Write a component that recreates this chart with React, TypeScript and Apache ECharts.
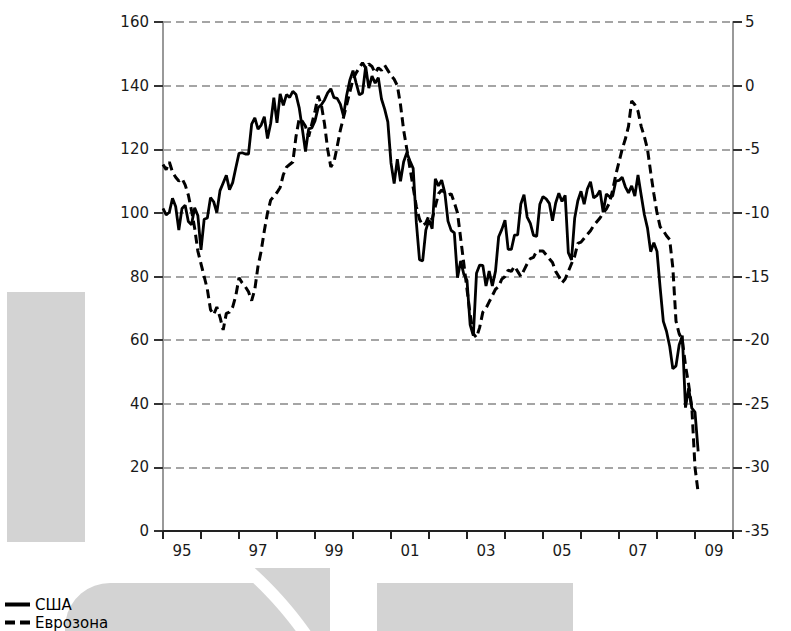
import React, { useEffect, useRef } from "react";
import * as echarts from "echarts";

const yearLabels = ["95", "96", "97", "98", "99", "00", "01", "02", "03", "04", "05", "06", "07", "08", "09"];

// Monthly, Jan 1995 .. Feb 2009 (left axis)
const usa = [
  101.4, 99.4, 100.2, 104.6, 102.0, 94.6, 101.4, 102.4, 97.3, 96.3, 101.6, 99.2,
  88.4, 98.0, 98.4, 104.8, 103.5, 100.1, 107.0, 109.4, 111.8, 107.3, 109.5, 114.2,
  118.7, 118.9, 118.5, 118.5, 127.9, 129.9, 126.3, 127.6, 130.2, 123.4, 128.1, 136.2,
  128.3, 137.4, 133.8, 137.2, 136.3, 138.2, 137.2, 133.1, 126.4, 119.3, 126.4, 126.7,
  128.9, 133.1, 134.0, 135.5, 137.7, 139.0, 136.2, 136.0, 134.2, 130.5, 137.0, 141.7,
  144.7, 140.8, 137.1, 137.7, 146.0, 139.2, 143.0, 140.8, 142.5, 135.8, 132.6, 128.6,
  115.7, 109.2, 116.9, 109.9, 116.1, 118.9, 116.3, 114.0, 97.0, 85.3, 84.9, 94.6,
  97.8, 95.0, 110.7, 108.5, 110.3, 106.3, 97.4, 94.5, 93.7, 79.6, 84.9, 80.7,
  78.8, 64.8, 61.4, 81.0, 83.6, 83.5, 77.0, 81.7, 77.0, 81.7, 92.5, 94.8,
  97.7, 88.5, 88.5, 93.0, 93.1, 102.8, 105.7, 98.7, 96.7, 92.9, 92.6, 102.7,
  105.1, 104.4, 103.0, 97.5, 103.1, 106.2, 103.6, 105.5, 87.5, 85.2, 98.3, 103.8,
  106.8, 102.7, 107.5, 109.8, 104.7, 105.4, 107.0, 100.2, 105.9, 105.1, 105.3, 110.0,
  110.2, 111.2, 108.2, 106.3, 108.5, 105.3, 111.9, 105.6, 99.5, 95.2, 87.8, 90.6,
  87.9, 76.4, 65.9, 62.8, 58.1, 51.0, 51.9, 58.5, 61.4, 38.8, 44.9, 38.6,
  37.4, 25.0,
];

// Monthly, Jan 1995 .. Feb 2009 (right axis)
const eurozone = [
  -6.2, -6.6, -6.0, -6.8, -7.2, -7.5, -7.3, -7.8, -8.6, -9.8, -11.2, -13.0,
  -14.0, -15.0, -16.0, -17.6, -18.0, -17.4, -18.2, -19.2, -17.9, -17.8, -17.4, -16.5,
  -15.1, -15.5, -15.8, -16.2, -16.9, -16.0, -14.2, -13.0, -11.4, -10.0, -9.0, -8.7,
  -8.4, -8.0, -7.0, -6.4, -6.2, -6.0, -4.0, -2.6, -2.8, -3.2, -4.0, -3.0,
  -2.0, -0.8, -1.5, -3.0, -5.0, -6.4, -6.0, -4.8, -3.5, -2.5, -1.5, -0.5,
  0.5, 1.0, 1.4, 1.8, 1.4, 1.7, 1.5, 1.0, 1.4, 1.2, 1.6, 1.2,
  0.8, 0.5, 0.0, -1.5, -3.5, -5.0, -6.5, -8.0, -9.5, -10.5, -11.0, -10.8,
  -10.2, -10.5, -9.5, -8.5, -8.2, -8.4, -8.6, -8.5, -9.2, -10.0, -12.0, -14.0,
  -16.0, -18.0, -19.5, -19.8, -19.0, -17.8, -17.5, -17.0, -16.5, -16.0, -15.8, -15.2,
  -15.0, -14.5, -14.6, -14.2, -14.6, -15.0, -14.5, -14.0, -13.6, -13.5, -13.0, -13.0,
  -13.0, -13.3, -13.6, -13.9, -14.6, -15.0, -15.5, -15.2, -14.6, -14.0, -13.4, -12.4,
  -12.3, -12.0, -11.7, -11.4, -11.0, -10.7, -10.4, -10.0, -9.7, -9.2, -8.2, -7.0,
  -6.0, -5.0, -4.2, -3.2, -1.2, -1.5, -2.0, -3.2, -4.0, -5.0, -6.8, -8.5,
  -10.0, -11.1, -11.4, -11.8, -12.1, -14.3, -18.5, -19.5, -20.0, -22.0, -23.5, -25.3,
  -30.0, -32.0,
];

const seriesNames = ["США", "Еврозона"];

const FONT = "DejaVu Sans";
const GRAY = "#d3d3d3";

function decoShapes() {
  const shapes: any[] = [];
  shapes.push({ type: "rect", shape: { x: 7, y: 292, width: 78, height: 250 }, style: { fill: GRAY }, z: 0 });
  const cx = 0, cy = 850;
  const ptsA: number[][] = [];
  ptsA.push([65, 640]);
  for (let a = 180; a <= 270; a += 10) {
    const r = a * Math.PI / 180;
    ptsA.push([110 + 45 * Math.cos(r), 628 + 45 * Math.sin(r)]);
  }
  const rA = 368;
  for (let y = 583; y <= 640; y += 4) {
    ptsA.push([cx + Math.sqrt(rA * rA - (cy - y) * (cy - y)), y]);
  }
  shapes.push({ type: "polygon", shape: { points: ptsA }, style: { fill: GRAY }, z: 0 });
  const rB = 380;
  const ptsB: number[][] = [];
  ptsB.push([330, 568]);
  ptsB.push([330, 640]);
  for (let y = 640; y >= 568; y -= 4) {
    ptsB.push([cx + Math.sqrt(rB * rB - (cy - y) * (cy - y)), y]);
  }
  shapes.push({ type: "polygon", shape: { points: ptsB }, style: { fill: GRAY }, z: 0 });
  shapes.push({ type: "rect", shape: { x: 377, y: 583, width: 196, height: 60 }, style: { fill: GRAY }, z: 0 });
  return shapes;
}

const legendText = { fontFamily: FONT, fontSize: 15, lineHeight: 17, color: "#000" };

export default function App() {
  const ref = useRef<HTMLDivElement>(null);
  useEffect(() => {
    const chart = echarts.init(ref.current!, null, { renderer: "svg" });
    const usaData = usa.map((v, i) => [i, v]);
    const ezData = eurozone.map((v, i) => [i, v]);
    chart.setOption({
      animation: false,
      backgroundColor: "#ffffff",
      textStyle: { fontFamily: FONT },
      graphic: decoShapes(),
      grid: { left: 163, right: 58, top: 22, bottom: 100, containLabel: false },
      legend: [
        {
          orient: "vertical",
          left: 5,
          top: 596,
          padding: 0,
          itemWidth: 25,
          itemHeight: 4,
          itemGap: 0,
          data: [{ name: seriesNames[0], icon: "path://M0,0h25v4h-25z" }],
          textStyle: legendText,
        },
        {
          orient: "vertical",
          left: 5,
          top: 614,
          padding: 0,
          itemWidth: 25,
          itemHeight: 4,
          itemGap: 0,
          data: [{ name: seriesNames[1], icon: "path://M0,0h10v4h-10z M15,0h10v4h-10z" }],
          textStyle: legendText,
        },
      ],
      xAxis: [
        {
          type: "value",
          min: 0,
          max: 180,
          interval: 12,
          position: "bottom",
          axisLine: { show: true, onZero: false, lineStyle: { color: "#222", width: 2 } },
          axisTick: { show: true, length: 8, lineStyle: { color: "#222", width: 2 } },
          axisLabel: { show: false },
          splitLine: { show: false },
        },
        {
          type: "category",
          data: yearLabels,
          boundaryGap: true,
          position: "bottom",
          axisLine: { show: false },
          axisTick: { show: false },
          axisLabel: { interval: 1, margin: 12, fontSize: 15, color: "#1a1a1a", fontFamily: FONT },
          splitLine: { show: false },
        },
      ],
      yAxis: [
        {
          type: "value",
          min: 0,
          max: 160,
          interval: 20,
          position: "left",
          axisLine: { show: true, lineStyle: { color: "#999", width: 2 } },
          axisTick: { show: true, length: 9, lineStyle: { color: "#333", width: 2 } },
          axisLabel: { margin: 14, fontSize: 15, color: "#1a1a1a", fontFamily: FONT },
          splitLine: { show: true, lineStyle: { color: "#888", width: 1.5, type: [8, 5] } },
        },
        {
          type: "value",
          min: -35,
          max: 5,
          interval: 5,
          position: "right",
          axisLine: { show: true, lineStyle: { color: "#999", width: 2 } },
          axisTick: { show: true, length: 9, lineStyle: { color: "#333", width: 2 } },
          axisLabel: { margin: 12, fontSize: 15, color: "#1a1a1a", fontFamily: FONT },
          splitLine: { show: false },
        },
      ],
      series: [
        {
          name: seriesNames[0],
          type: "line",
          xAxisIndex: 0,
          yAxisIndex: 0,
          data: usaData,
          symbol: "none",
          lineStyle: { color: "#000", width: 2.8 },
          itemStyle: { color: "#000" },
          z: 3,
        },
        {
          name: seriesNames[1],
          type: "line",
          xAxisIndex: 0,
          yAxisIndex: 1,
          data: ezData,
          symbol: "none",
          lineStyle: { color: "#000", width: 3, type: [9, 5] },
          itemStyle: { color: "#000" },
          z: 3,
        },
      ],
    });
    return () => chart.dispose();
  }, []);
  return <div ref={ref} style={{ position: "absolute", left: 0, top: 0, width: 791, height: 631 }} />;
}
